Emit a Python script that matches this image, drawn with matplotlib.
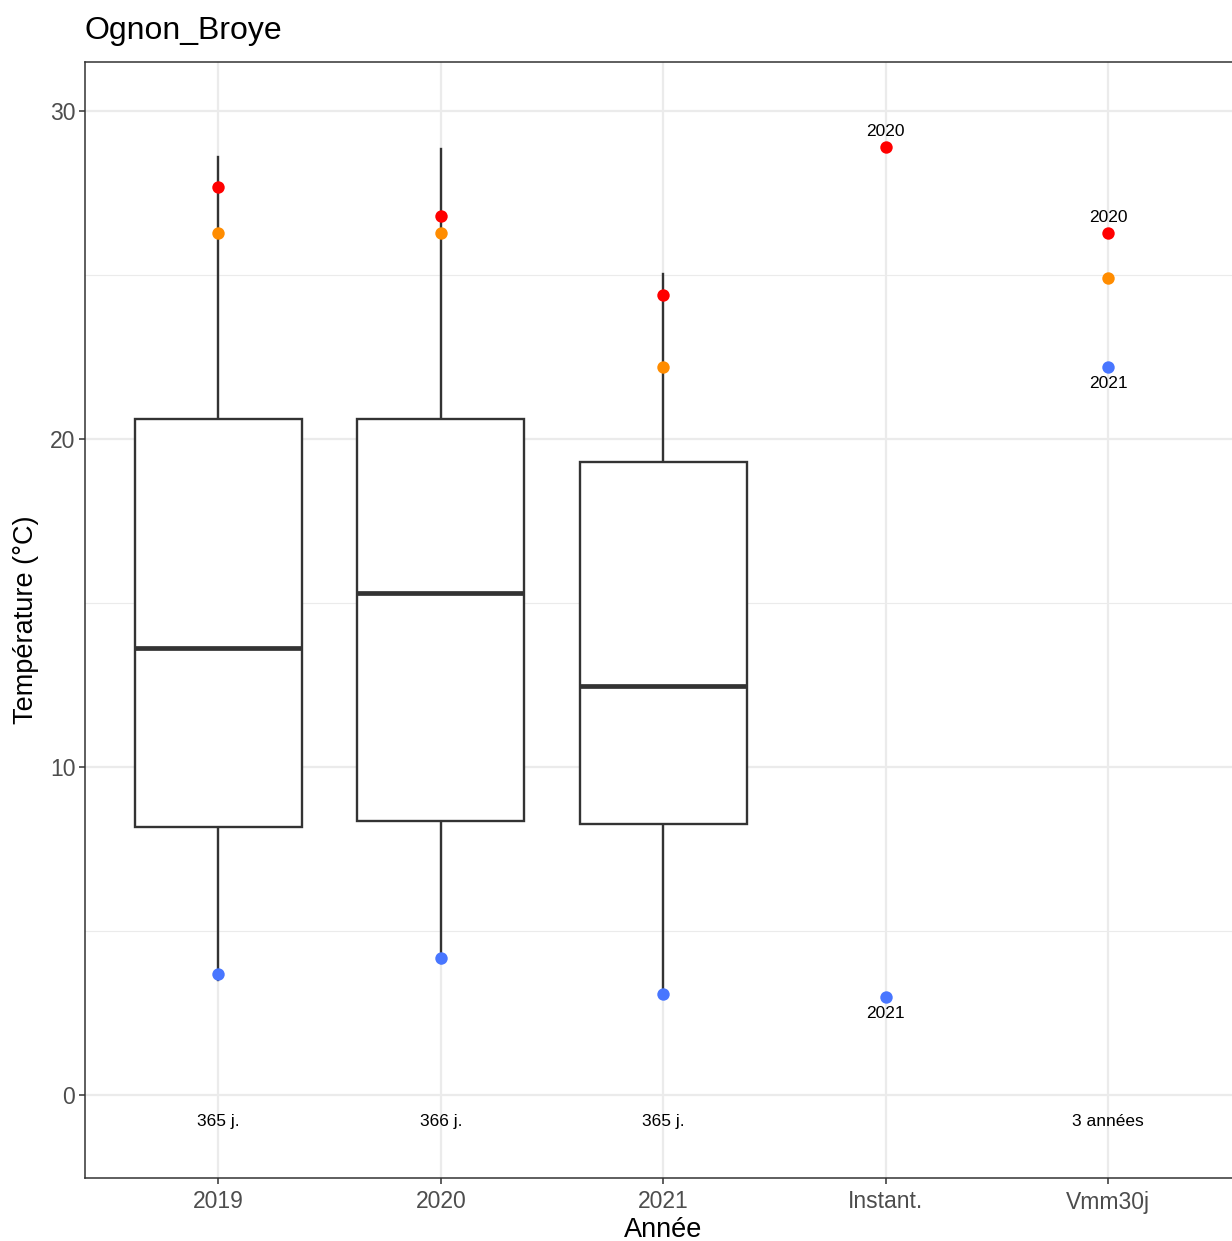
import matplotlib
matplotlib.use("Agg")
import matplotlib.pyplot as plt
from matplotlib.ticker import MultipleLocator

plt.rcParams['font.family'] = ['Liberation Sans', 'DejaVu Sans']

# data
categories = ["2019", "2020", "2021", "Instant.", "Vmm30j"]
box_q1 = [8.17, 8.35, 8.26]
box_med = [13.63, 15.3, 12.47]
box_q3 = [20.61, 20.61, 19.3]
whisk_lo = [3.5, 4.02, 3.05]
whisk_hi = [28.6, 28.84, 25.03]

red_vals = [27.68, 26.8, 24.39, 28.9, 26.28]
orange_x = [0, 1, 2, 4]
orange_vals = [26.28, 26.28, 22.2, 24.91]
blue_vals = [3.69, 4.18, 3.08, 2.99, 22.2]

red_labels = {3: "2020", 4: "2020"}
blue_labels = {3: "2021", 4: "2021"}
count_labels = ["365 j.", "366 j.", "365 j.", "", "3 années"]

W, H = 1232, 1241
fig = plt.figure(figsize=(W / 100, H / 100), dpi=100)
ax = fig.add_axes([85 / W, 1 - 1178 / H, 1156.6 / W, (1178 - 62) / H])

ax.set_xlim(-0.6, 4.6)
ax.set_ylim(-2.53, 31.49)

# grid like theme_bw
ax.yaxis.set_major_locator(MultipleLocator(10))
ax.yaxis.set_minor_locator(MultipleLocator(5))
ax.set_xticks(range(len(categories)))
ax.set_xticklabels(categories)
ax.grid(which="major", color="#EBEBEB", linewidth=1.6, zorder=0)
ax.grid(which="minor", axis="y", color="#EBEBEB", linewidth=0.8, zorder=0)
ax.set_axisbelow(True)

dark = "#333333"
bw = 0.75
for i in range(3):
    ax.plot([i, i], [whisk_lo[i], box_q1[i]], color=dark, lw=1.7, zorder=2)
    ax.plot([i, i], [box_q3[i], whisk_hi[i]], color=dark, lw=1.7, zorder=2)
    ax.add_patch(plt.Rectangle((i - bw / 2, box_q1[i]), bw, box_q3[i] - box_q1[i],
                               facecolor="white", edgecolor=dark, lw=1.7, zorder=2))
    ax.plot([i - bw / 2, i + bw / 2], [box_med[i], box_med[i]], color=dark, lw=3.4,
            solid_capstyle="butt", zorder=3)

ax.scatter(range(len(red_vals)), red_vals, s=80, color="#FF0000", zorder=4, linewidths=0)
ax.scatter(orange_x, orange_vals, s=80, color="#FF8C00", zorder=4, linewidths=0)
ax.scatter(range(len(blue_vals)), blue_vals, s=80, color="#4876FF", zorder=4, linewidths=0)

for i, t in red_labels.items():
    ax.annotate(t, (i, red_vals[i]), xytext=(0, 11), textcoords="offset points",
                ha="center", va="center", fontsize=12.5, color="black")
for i, t in blue_labels.items():
    ax.annotate(t, (i, blue_vals[i]), xytext=(0, -12), textcoords="offset points",
                ha="center", va="center", fontsize=12.5, color="black")
for i, t in enumerate(count_labels):
    if t:
        ax.text(i, -0.8, t, ha="center", va="center", fontsize=12.5, color="black")

for s in ax.spines.values():
    s.set_color(dark)
    s.set_linewidth(1.1)
ax.tick_params(which="major", length=4, width=1.1, color=dark, labelsize=16.5,
               labelcolor="#4D4D4D")
ax.tick_params(axis="x", which="major", pad=5)
ax.tick_params(axis="y", which="major", pad=3)
ax.tick_params(which="minor", length=0)

ax.set_xlabel("Année", fontsize=19.5, labelpad=2.5)
ax.set_ylabel("Température (°C)", fontsize=19.5, labelpad=8)
fig.text(85 / W, 1 - 31 / H, "Ognon_Broye", fontsize=23, ha="left", va="center")

fig.savefig("out.png", dpi=100)
